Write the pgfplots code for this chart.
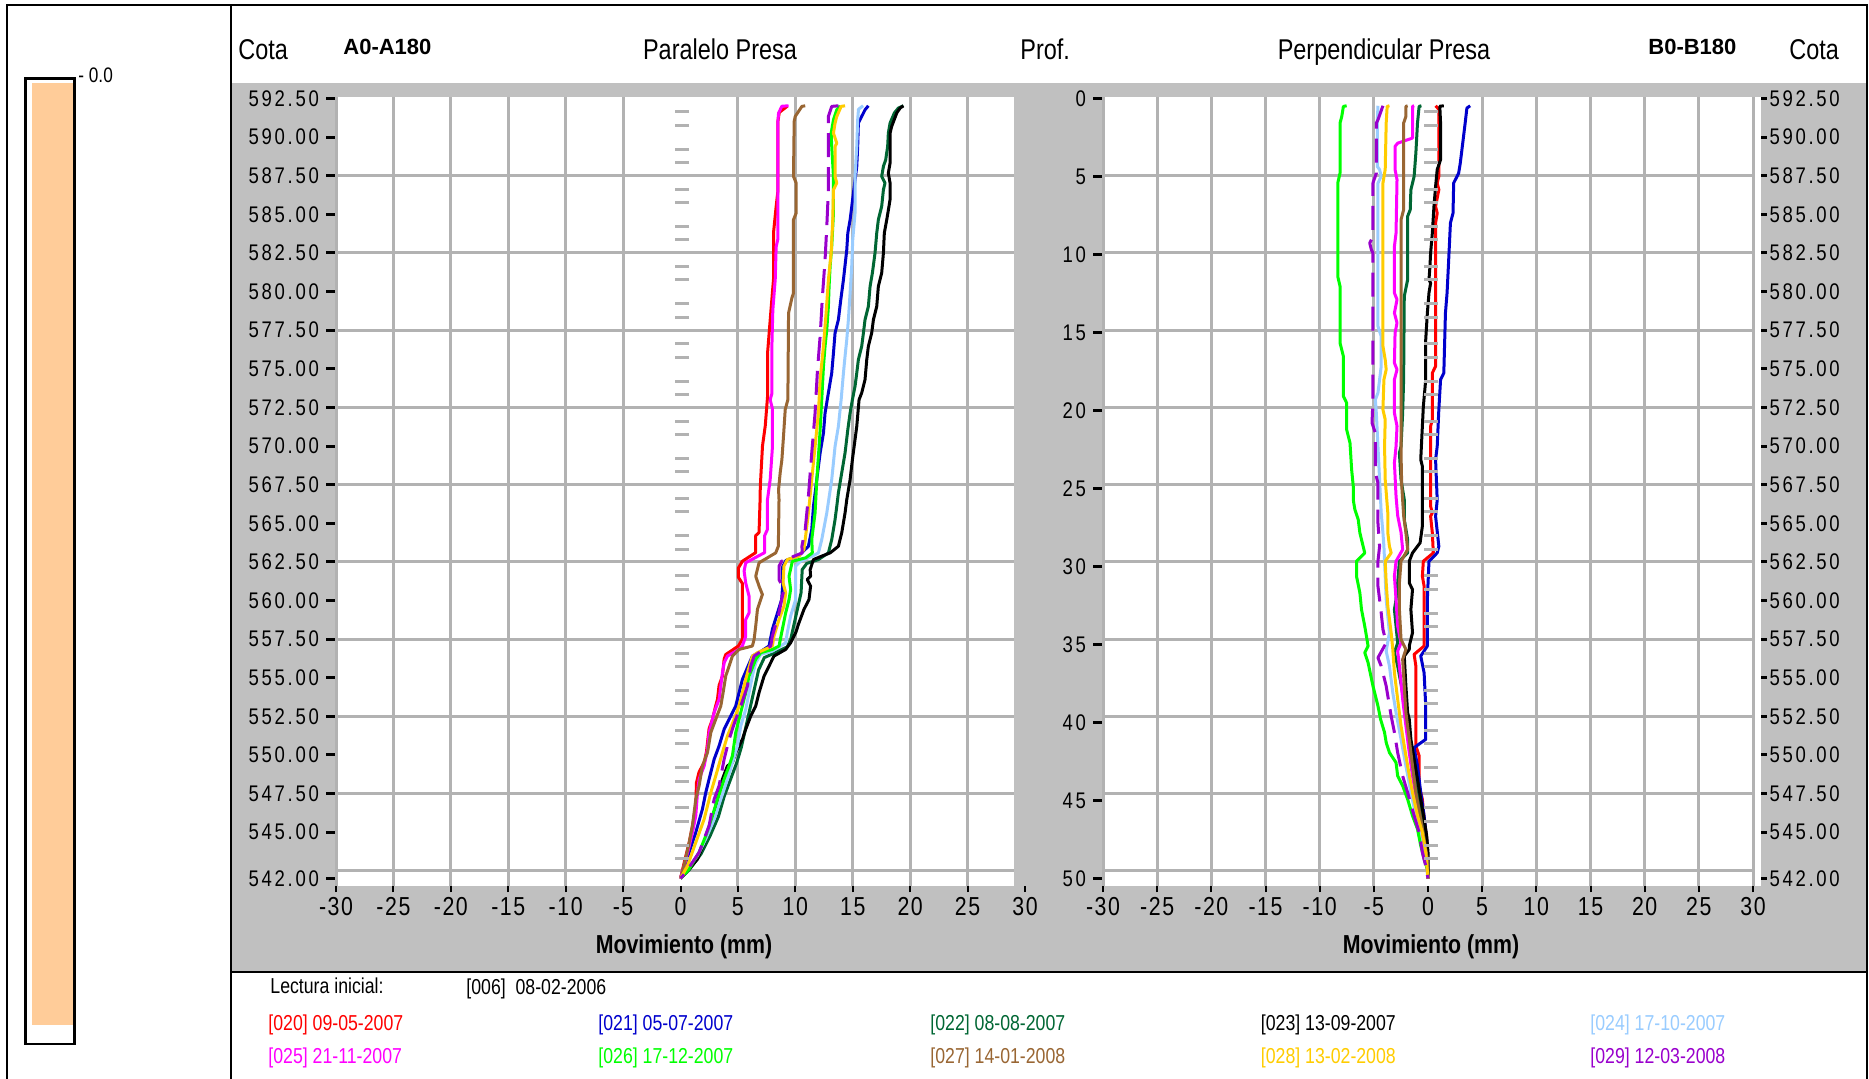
\documentclass[border=0pt]{standalone}
\usepackage{pgfplots}
\pgfplotsset{compat=1.18}
\usepackage{fontspec}
\setmainfont{Liberation Sans}[FakeStretch=0.82]
\newfontfamily\widef{Liberation Sans}
\newfontfamily\tickf{Liberation Sans}[FakeStretch=0.82,LetterSpace=12]
\newfontfamily\xtickf{Liberation Sans}[FakeStretch=0.82,LetterSpace=6]
\definecolor{c020}{RGB}{255,0,0}
\definecolor{c021}{RGB}{0,0,204}
\definecolor{c022}{RGB}{0,102,51}
\definecolor{c023}{RGB}{0,0,0}
\definecolor{c024}{RGB}{153,204,255}
\definecolor{c025}{RGB}{255,0,255}
\definecolor{c026}{RGB}{0,255,0}
\definecolor{c027}{RGB}{153,102,51}
\definecolor{c028}{RGB}{255,204,0}
\definecolor{c029}{RGB}{153,0,204}
\definecolor{gridgray}{RGB}{178,178,178}
\definecolor{bggray}{RGB}{192,192,192}
\definecolor{barfill}{RGB}{255,204,153}
\newcommand\ytfont{\tickf\fontsize{11.3}{12}\selectfont}
\newcommand\xtfont{\xtickf\fontsize{13}{14}\selectfont}
\newcommand\hfont{\fontsize{14.3}{16}\selectfont}
\newcommand\bfont{\widef\bfseries\fontsize{11}{13}\selectfont}
\newcommand\mfont{\bfseries\fontsize{13}{15}\selectfont}
\newcommand\lfont{\fontsize{10.8}{12}\selectfont}

\pgfplotsset{
  inclbase/.style={
    scale only axis, height=394.6pt,
    xmin=-30, xmax=30, ymin=541.5, ymax=592.6,
    axis line style={draw=none},
    tick align=outside,
    major tick length=5pt,
    xtick pos=left,
    xtick={-30,-25,-20,-15,-10,-5,0,5,10,15,20,25,30},
    xticklabels={-30,-25,-20,-15,-10,-5,0,5,10,15,20,25,30},
    xticklabel style={font=\xtfont, yshift=3pt},
    yticklabel style={font=\ytfont},
    xtick style={black, line width=1pt, /pgfplots/major tick length=3pt},
    ytick style={black, line width=1.5pt},
    grid style={gridgray, line width=1.5pt},
    extra y ticks={542.5,547.5,552.5,557.5,562.5,567.5,572.5,577.5,582.5,587.5},
    extra y tick labels={},
    extra y tick style={grid=major, major tick length=0pt},
    extra x tick labels={},
    extra x tick style={grid=major, major tick length=0pt},
    /pgf/number format/assume math mode=true,
  },
  curve/.style={line width=1.5pt, line join=round},
  zmarks/.style={only marks, mark=-, mark size=3.5pt, mark options={gridgray, line width=1.5pt}},
}

\begin{document}
\begin{tikzpicture}
\begin{scope}[x=0.5pt,y=-0.5pt,shift={(0,539.5pt)}]
\path[use as bounding box] (0,0) rectangle (1869,1079);
\fill[bggray] (231,83) rectangle (1867,971);
\fill[white] (336,97) rectangle (1014,886);
\fill[white] (1103,97) rectangle (1760.5,886);
\fill[barfill] (32,83) rectangle (73.3,1025);
\draw[line width=1.25pt] (25.5,78.7) rectangle (74.5,1044);
\draw[line width=1.25pt] (7,1079) -- (7,5) -- (1867,5) -- (1867,1079);
\draw[line width=1.25pt] (231,5) -- (231,1079);
\draw[line width=1.25pt] (231,972) -- (1867,972);
\end{scope}

% ---------------- LEFT: Paralelo Presa ----------------
\begin{axis}[inclbase, at={(168pt,96.4pt)}, anchor=south west, width=344.5pt,
  ytick pos=left,
  ytick={542,545,547.5,550,552.5,555,557.5,560,562.5,565,567.5,570,572.5,575,577.5,580,582.5,585,587.5,590,592.5},
  yticklabels={542.00,545.00,547.50,550.00,552.50,555.00,557.50,560.00,562.50,565.00,567.50,570.00,572.50,575.00,577.50,580.00,582.50,585.00,587.50,590.00,592.50},
  extra x ticks={-30,-25,-20,-15,-10,-5,5,10,15,20,25},
]
\addplot[zmarks] coordinates {(0.15,591.65)(0.15,590.78)(0.15,589.23)(0.15,588.37)(0.15,586.64)(0.15,585.78)(0.15,584.20)(0.15,583.34)(0.15,581.61)(0.15,580.75)(0.15,579.20)(0.15,578.33)(0.15,576.61)(0.15,575.74)(0.15,574.19)(0.15,573.32)(0.15,571.60)(0.15,570.73)(0.15,569.18)(0.15,568.32)(0.15,566.59)(0.15,565.73)(0.15,564.18)(0.15,563.33)(0.15,561.59)(0.15,560.74)(0.15,559.17)(0.15,558.30)(0.15,556.58)(0.15,555.71)(0.15,554.16)(0.15,553.30)(0.15,551.57)(0.15,550.71)(0.15,549.16)(0.15,548.29)(0.15,546.57)(0.15,545.70)(0.15,544.15)(0.15,543.28)};
% [020]
\addplot[c020, curve] coordinates {(9.3,592.0)(8.6,591.6)(8.48,591.0)(8.48,586.5)(8.3,585.3)(8.1,583.8)(8.1,580.8)(7.9,579.0)(7.58,576.0)(7.58,573.2)(7.38,571.3)(7.14,570.0)(6.95,567.4)(6.93,566.5)(6.84,564.4)(6.55,564.2)(6.55,563.1)(5.39,562.54)(5.04,562.1)(5.04,561.5)(5.39,561.1)(5.39,557.5)(5.04,557.05)(3.94,556.5)(3.8,556.2)(3.65,555.1)(3.36,554.5)(3.22,553.6)(3.07,553.2)(2.78,552.3)(2.49,551.7)(2.26,550.2)(2.06,549.5)(1.62,548.9)(1.39,548.2)(1.33,546.7)(1.04,545.4)(0.75,544.3)(0.41,543.3)(0,542)};
% [021]
\addplot[c021, curve] coordinates {(16.36,592.03)(16.07,591.77)(15.78,591.34)(15.49,590.91)(15.43,589.4)(15.35,588.1)(15.06,586.38)(14.77,584.65)(14.57,583.79)(14.48,582.71)(14.19,580.77)(13.96,579.48)(13.75,578.18)(13.46,577.32)(13.32,576.02)(13.17,574.73)(12.88,573.44)(12.59,572.14)(12.45,570.85)(12.16,569.55)(11.87,567.83)(11.58,566.1)(11.43,564.59)(11.14,563.51)(10.3,562.9)(9.2,562.6)(8.9,562.2)(8.9,561.0)(8.81,560.06)(8.0,558.13)(7.71,557.05)(6.84,556.62)(6.26,556.4)(5.39,554.89)(4.81,553.17)(4.38,552.52)(3.8,551.66)(3.36,550.58)(2.93,549.72)(2.49,548.43)(2.2,547.56)(1.91,546.49)(1.33,544.98)(0.75,543.69)(0,542)};
% [022]
\addplot[c022, curve] coordinates {(19.41,592.03)(18.97,591.88)(18.62,591.56)(18.25,590.91)(18.1,590.26)(18.04,589.4)(17.87,588.54)(17.67,588.1)(17.52,587.46)(17.81,587.03)(17.67,586.59)(17.52,585.52)(17.23,584.65)(17.09,583.79)(16.94,582.5)(16.71,581.2)(16.51,580.34)(16.36,579.04)(16.07,578.18)(15.93,577.32)(15.78,576.46)(15.49,575.59)(15.35,574.73)(15.2,573.87)(14.97,573.0)(14.77,572.14)(14.57,571.06)(14.33,569.55)(14.04,568.26)(13.75,566.97)(13.61,566.1)(13.46,565.24)(13.17,563.94)(12.88,563.08)(12.01,562.65)(11.0,562.4)(10.6,562.0)(10.5,560.5)(10.2,559.5)(9.9,558.5)(9.6,557.5)(9.3,557.0)(8.2,556.6)(7.3,556.3)(6.8,555.5)(6.5,554.5)(6.2,553.5)(5.9,552.5)(5.6,551.5)(5.3,550.5)(4.9,549.5)(4.4,548.5)(3.8,547.3)(3.3,546.0)(2.6,544.8)(1.8,543.6)(0.8,542.6)(0,542)};
% [023]
\addplot[c023, curve] coordinates {(19.41,592.03)(19.12,591.88)(18.83,591.56)(18.39,590.69)(18.25,590.26)(18.25,588.32)(18.1,587.67)(18.25,587.03)(18.25,585.95)(17.96,584.65)(17.75,583.79)(17.67,582.5)(17.52,581.2)(17.23,580.34)(17.09,579.04)(16.8,578.18)(16.65,577.32)(16.36,576.46)(16.22,575.59)(16.07,574.3)(15.78,573.44)(15.55,573.0)(15.35,571.28)(15.2,570.42)(14.97,569.12)(14.77,567.83)(14.48,566.53)(14.33,565.67)(14.04,564.38)(13.75,563.51)(13.03,563.08)(12.3,562.87)(11.58,562.65)(11.29,562.0)(11.33,561.57)(11.04,561.36)(11.33,560.93)(11.19,560.06)(10.75,559.42)(10.32,558.56)(10.03,557.91)(9.59,557.26)(9.16,556.83)(8.14,556.4)(7.71,555.75)(7.28,555.11)(6.84,554.03)(6.55,553.17)(6.12,552.52)(5.68,551.66)(5.39,551.01)(4.81,550.15)(4.52,549.5)(4.09,549.29)(3.65,548.43)(3.22,547.13)(2.78,545.84)(2.2,544.55)(1.48,543.25)(0.75,542.61)(0,542)};
% [024]
\addplot[c024, curve] coordinates {(15.9,592.03)(15.5,591.8)(15.43,591.12)(15.35,589.4)(15.2,587.46)(15.2,585.08)(15.0,583.36)(14.91,581.63)(14.77,579.91)(14.62,578.18)(14.48,576.89)(14.33,575.81)(14.19,574.73)(13.99,573.0)(13.75,571.28)(13.46,569.98)(13.17,567.83)(12.74,565.67)(12.3,563.94)(12.01,563.08)(11.48,562.87)(10.46,562.54)(10.03,562.22)(10.03,560.06)(9.59,558.99)(9.3,557.91)(9.16,557.26)(8.0,556.72)(6.99,556.51)(6.55,555.97)(6.26,555.11)(5.97,554.03)(5.68,552.95)(5.25,551.88)(4.96,550.58)(4.52,549.5)(4.09,548.43)(3.51,547.13)(2.93,545.84)(2.2,544.55)(1.48,543.47)(0.61,542.61)(0,542)};
% [025]
\addplot[c025, curve] coordinates {(9.41,592.03)(8.83,592.0)(8.54,591.56)(8.48,591.0)(8.48,583.4)(8.33,582.9)(8.25,580.8)(8.04,578.8)(7.96,576.5)(7.96,573.4)(7.81,573.0)(8.01,572.4)(8.01,569.98)(7.81,567.83)(7.57,566.5)(7.57,564.6)(7.33,564.2)(7.33,563.1)(5.68,562.44)(5.54,561.9)(5.68,561.14)(5.97,560.28)(5.97,559.2)(5.68,558.77)(5.68,557.69)(5.39,557.05)(5.10,556.83)(4.09,556.4)(3.80,555.97)(3.65,555.32)(3.51,554.46)(3.36,553.6)(2.93,552.74)(2.64,551.88)(2.49,551.45)(2.35,550.37)(2.06,549.29)(1.62,548.43)(1.48,547.56)(1.33,546.06)(1.04,544.98)(0.70,543.9)(0.32,542.82)(0,542)};
% [026]
\addplot[c026, curve] coordinates {(13.90,592.03)(13.61,591.77)(13.32,591.12)(13.12,590.26)(13.17,589.40)(13.32,587.46)(13.32,585.08)(13.17,582.93)(13.03,581.63)(12.94,580.34)(12.88,579.04)(12.74,577.53)(12.59,576.46)(12.45,575.16)(12.30,573.0)(12.16,571.06)(12.07,569.98)(11.87,567.83)(11.72,565.67)(11.43,563.94)(11.48,563.08)(10.90,562.76)(9.74,562.54)(9.45,561.57)(9.59,560.71)(9.45,560.06)(9.16,559.2)(8.81,557.91)(8.58,557.05)(8.00,556.83)(6.99,556.62)(6.55,556.19)(5.97,555.11)(5.68,554.03)(5.39,553.17)(5.10,552.31)(4.81,551.45)(4.52,549.94)(4.23,549.29)(3.80,548.43)(3.22,547.13)(2.78,546.06)(2.20,544.76)(1.62,543.69)(0.75,542.61)(0,542)};
% [027]
\addplot[c027, curve] coordinates {(10.86,592.03)(10.57,591.99)(9.99,591.34)(9.90,591.02)(9.84,587.46)(10.07,587.03)(10.07,585.08)(9.84,584.65)(9.84,579.91)(9.70,579.58)(9.41,578.61)(9.35,573.0)(9.12,572.36)(8.97,570.63)(8.83,569.12)(8.68,568.26)(8.54,567.18)(8.58,566.53)(8.52,563.51)(8.29,563.08)(6.84,562.44)(6.55,561.57)(6.84,560.93)(7.13,560.39)(6.70,559.42)(6.55,558.34)(6.41,557.48)(6.26,557.05)(5.10,556.83)(4.52,556.4)(4.23,555.75)(3.94,555.11)(3.71,554.03)(3.51,553.17)(3.07,552.31)(2.64,551.45)(2.35,550.15)(1.91,549.29)(1.62,548.0)(1.33,547.13)(1.04,545.41)(0.70,544.12)(0.17,542.39)(0,542)};
% [028]
\addplot[c028, curve] coordinates {(14.33,592.03)(13.99,591.99)(13.61,591.34)(13.46,590.91)(13.32,590.26)(13.61,589.61)(13.46,589.4)(13.46,587.46)(13.61,587.03)(13.32,586.59)(13.26,584.65)(13.12,582.5)(12.88,580.77)(12.68,578.61)(12.45,576.46)(12.16,574.3)(12.01,572.14)(11.72,569.98)(11.43,567.83)(11.14,565.67)(10.86,563.94)(10.75,563.3)(10.32,562.87)(9.30,562.65)(9.01,562.22)(8.93,561.14)(9.16,560.5)(9.01,559.63)(8.58,558.77)(8.14,557.69)(8.00,557.05)(6.70,556.62)(6.26,556.4)(5.83,555.32)(5.39,554.03)(5.10,553.17)(4.67,552.31)(4.09,551.23)(3.65,550.15)(3.07,548.64)(2.64,547.56)(2.06,545.84)(1.33,544.33)(0.61,542.82)(0,542)};
% [029]
\addplot[c029, curve, dash pattern=on 12pt off 5pt] coordinates {(13.75,592.03)(13.17,591.99)(12.88,591.34)(12.88,586.59)(12.74,584.22)(12.59,582.06)(12.36,579.7)(12.16,577.1)(11.93,574.95)(11.72,572.14)(11.43,569.55)(11.14,566.75)(10.86,564.59)(10.57,563.51)(10.61,563.08)(8.81,562.54)(8.58,562.22)(8.58,561.36)(9.01,560.71)(8.81,560.06)(8.58,559.2)(8.00,557.69)(7.86,557.05)(6.84,556.62)(6.41,556.4)(6.12,555.75)(5.83,554.46)(5.25,553.17)(4.81,552.31)(4.23,551.01)(3.80,549.72)(3.36,548.0)(2.93,547.13)(2.49,545.41)(1.62,543.69)(0.46,542.39)(0,542)};
\end{axis}

% ---------------- RIGHT: Perpendicular Presa ----------------
\begin{axis}[inclbase, at={(551.5pt,96.4pt)}, anchor=south west, width=325pt,
  ytick pos=left,
  ytick={542,547.05,552.1,557.15,562.2,567.25,572.3,577.35,582.4,587.45,592.5},
  yticklabels={50,45,40,35,30,25,20,15,10,5,0},
  extra x ticks={-30,-25,-20,-15,-10,-5,5,10,15,20,25,30},
]
\addplot[zmarks] coordinates {(0.25,591.65)(0.25,590.78)(0.25,589.23)(0.25,588.37)(0.25,586.64)(0.25,585.78)(0.25,584.20)(0.25,583.34)(0.25,581.61)(0.25,580.75)(0.25,579.20)(0.25,578.33)(0.25,576.61)(0.25,575.74)(0.25,574.19)(0.25,573.32)(0.25,571.60)(0.25,570.73)(0.25,569.18)(0.25,568.32)(0.25,566.59)(0.25,565.73)(0.25,564.18)(0.25,563.33)(0.25,561.59)(0.25,560.74)(0.25,559.17)(0.25,558.30)(0.25,556.58)(0.25,555.71)(0.25,554.16)(0.25,553.30)(0.25,551.57)(0.25,550.71)(0.25,549.16)(0.25,548.29)(0.25,546.57)(0.25,545.70)(0.25,544.15)(0.25,543.28)};
% [020]
\addplot[c020, curve] coordinates {(0.7,592.03)(1.0,591.8)(1.0,590.48)(1.0,587.46)(0.85,587.03)(1.0,586.59)(0.7,585.52)(0.85,585.08)(0.7,584.44)(0.7,575.16)(0.4,574.73)(0.4,571.71)(0.24,571.28)(0.24,566.1)(0.4,565.67)(0.24,565.45)(0.4,564.38)(0.49,563.08)(-0.43,562.54)(-0.52,561.57)(-0.36,560.93)(-0.36,557.05)(-1.28,556.51)(-1.12,555.75)(-1.12,550.58)(-0.82,549.94)(-0.82,548.0)(-0.52,547.13)(-0.36,545.84)(-0.12,544.55)(0,542)};
% [021]
\addplot[c021, curve] coordinates {(3.89,592.03)(3.59,591.88)(3.43,590.91)(3.28,590.04)(2.98,588.32)(2.83,587.67)(2.37,587.03)(2.31,585.08)(2.07,584.44)(1.91,582.06)(1.76,579.91)(1.61,578.61)(1.46,574.73)(1.16,574.3)(1.0,572.36)(0.85,569.98)(0.7,569.12)(0.85,566.5)(0.7,565.45)(1.0,563.51)(0.85,563.08)(0.09,562.54)(-0.06,560.06)(-0.06,557.05)(-0.67,556.4)(-0.36,555.32)(-0.21,553.17)(-0.21,551.01)(-1.28,550.47)(-0.97,549.29)(-0.67,547.56)(-0.36,546.06)(-0.06,544.12)(0,542)};
% [022]
\addplot[c022, curve] coordinates {(-0.61,592.03)(-0.82,591.99)(-0.97,590.91)(-1.12,588.97)(-1.28,587.46)(-1.58,586.59)(-1.64,585.3)(-1.88,584.87)(-1.88,580.77)(-2.19,579.69)(-2.25,574.3)(-2.34,572.14)(-2.49,569.98)(-2.64,569.55)(-2.49,567.83)(-2.19,566.53)(-2.19,565.24)(-1.88,563.94)(-1.88,563.08)(-2.64,562.54)(-2.8,561.14)(-2.95,560.06)(-3.1,559.42)(-2.95,558.34)(-2.8,557.26)(-3.1,556.62)(-2.8,555.75)(-2.34,554.03)(-2.04,552.31)(-1.73,550.58)(-1.28,548.86)(-0.97,547.56)(-0.67,546.27)(-0.36,544.98)(-0.12,543.69)(0,542)};
% [023]
\addplot[c023, curve] coordinates {(1.46,592.03)(1.09,592.0)(1.16,590.91)(1.16,588.54)(0.85,587.9)(0.7,586.81)(0.55,585.52)(0.4,583.79)(0.24,582.5)(0.18,581.63)(0.09,580.77)(0.24,580.55)(0.09,579.91)(-0.06,578.61)(-0.21,576.89)(-0.21,574.3)(-0.43,572.57)(-0.52,571.28)(-0.67,569.12)(-0.52,568.69)(-0.52,564.81)(-0.73,563.73)(-1.43,563.08)(-1.73,562.54)(-1.73,561.14)(-1.43,560.71)(-1.58,559.42)(-1.43,557.91)(-1.73,557.05)(-1.73,556.83)(-2.19,556.4)(-2.04,554.46)(-1.88,552.74)(-1.73,552.31)(-1.58,551.01)(-1.28,549.72)(-0.97,548.43)(-0.67,547.13)(-0.36,545.84)(-0.12,544.76)(0,543.69)(0,542)};
% [024]
\addplot[c024, curve] coordinates {(-4.62,592.03)(-4.68,591.0)(-4.68,588.1)(-4.47,587.9)(-4.32,587.46)(-4.62,587.03)(-4.62,577.75)(-4.32,577.1)(-4.32,575.16)(-4.62,573.44)(-4.86,573.0)(-4.77,572.14)(-4.62,569.98)(-4.47,567.83)(-4.32,565.67)(-4.16,564.38)(-4.07,563.51)(-4.01,562.54)(-3.86,560.06)(-3.56,557.91)(-3.86,556.72)(-3.56,555.75)(-3.25,554.03)(-2.95,552.74)(-2.49,551.01)(-2.04,549.29)(-1.58,547.56)(-1.12,546.06)(-0.67,544.55)(-0.21,543.25)(0,542)};
% [025]
\addplot[c025, curve] coordinates {(-1.28,592.03)(-1.43,591.99)(-1.43,589.94)(-2.8,589.61)(-3.04,589.4)(-3.04,587.9)(-2.86,587.24)(-2.95,583.79)(-3.1,582.93)(-3.1,579.91)(-2.86,579.48)(-3.1,578.61)(-2.86,577.97)(-3.04,577.32)(-3.1,575.38)(-2.86,574.95)(-3.1,574.3)(-3.1,572.14)(-2.86,571.28)(-2.95,569.98)(-3.1,568.91)(-2.95,566.75)(-2.8,565.5)(-2.49,564.4)(-2.34,563.3)(-2.95,562.54)(-3.1,561.57)(-2.95,560.06)(-2.8,558.34)(-2.49,557.26)(-2.8,556.72)(-2.64,555.75)(-2.34,553.6)(-2.04,551.88)(-1.73,550.15)(-1.43,548.64)(-0.97,546.7)(-0.52,544.98)(-0.21,543.69)(0,542)};
% [026]
\addplot[c026, curve] coordinates {(-7.51,592.03)(-7.81,591.99)(-7.96,591.34)(-8.12,590.91)(-8.12,587.67)(-8.33,587.03)(-8.33,580.98)(-8.12,580.34)(-8.12,576.67)(-7.81,575.81)(-7.81,573.22)(-7.51,572.79)(-7.51,571.06)(-7.20,570.2)(-7.05,568.48)(-6.90,567.4)(-6.90,566.53)(-6.75,565.88)(-6.44,565.24)(-6.29,564.38)(-5.84,563.08)(-6.60,562.54)(-6.60,561.57)(-6.29,560.50)(-6.14,559.42)(-5.84,558.34)(-5.53,557.05)(-5.84,556.62)(-5.53,555.97)(-5.08,554.46)(-4.62,553.17)(-4.38,552.31)(-4.01,551.45)(-3.86,550.80)(-3.56,550.15)(-2.95,549.50)(-2.80,548.64)(-2.34,548.0)(-1.88,547.13)(-1.43,546.06)(-0.97,545.20)(-0.67,544.12)(-0.36,543.25)(-0.06,542.61)(0,542)};
% [027]
\addplot[c027, curve] coordinates {(-1.88,592.03)(-2.04,591.99)(-2.04,591.34)(-2.25,590.91)(-2.25,585.3)(-2.49,584.65)(-2.49,569.55)(-2.43,567.5)(-2.25,565.5)(-2.04,564.38)(-1.88,563.3)(-2.49,562.54)(-2.64,561.14)(-2.64,559.42)(-2.49,557.48)(-2.04,556.83)(-2.34,556.19)(-2.19,554.46)(-2.04,552.74)(-1.73,551.01)(-1.43,549.29)(-1.12,547.56)(-0.67,545.84)(-0.36,544.55)(-0.06,543.25)(0,542)};
% [028]
\addplot[c028, curve] coordinates {(-3.56,592.03)(-3.77,591.99)(-3.86,590.91)(-3.95,587.9)(-4.16,587.03)(-4.16,576.46)(-3.95,575.59)(-3.86,574.95)(-4.07,574.3)(-4.16,572.36)(-3.95,571.71)(-4.01,569.98)(-3.95,567.83)(-3.71,565.67)(-3.71,564.38)(-3.56,563.51)(-3.4,563.08)(-3.95,562.54)(-3.86,561.14)(-3.71,559.63)(-3.4,557.91)(-3.25,556.83)(-3.1,555.32)(-2.8,553.6)(-2.49,551.88)(-2.19,550.58)(-1.88,549.29)(-1.43,547.56)(-0.97,546.06)(-0.52,544.98)(-0.21,543.69)(0,542)};
% [029]
\addplot[c029, curve, dash pattern=on 12pt off 5pt] coordinates {(-4.16,592.03)(-4.62,591.12)(-4.77,590.91)(-4.77,587.67)(-5.08,587.03)(-5.08,583.57)(-5.38,583.14)(-5.23,582.71)(-5.08,582.5)(-5.08,573.0)(-5.17,571.49)(-4.86,570.85)(-4.86,568.26)(-4.62,567.61)(-4.62,565.02)(-4.47,563.51)(-4.62,562.54)(-4.62,560.93)(-4.47,560.06)(-4.32,559.2)(-4.16,558.13)(-3.86,557.26)(-4.62,556.29)(-4.32,555.75)(-3.86,554.46)(-3.4,552.52)(-3.1,551.45)(-2.8,550.15)(-2.34,548.64)(-1.88,547.56)(-1.28,546.06)(-0.82,544.98)(-0.52,543.69)(-0.21,542.82)(0,542)};
\end{axis}

% right-hand Cota scale
\begin{axis}[scale only axis, at={(551.5pt,96.4pt)}, anchor=south west, width=328.75pt, height=394.6pt,
  xmin=-30, xmax=30, ymin=541.5, ymax=592.6,
  hide x axis, axis line style={draw=none},
  tick align=outside, major tick length=3pt,
  ytick pos=right,
  ytick={542,545,547.5,550,552.5,555,557.5,560,562.5,565,567.5,570,572.5,575,577.5,580,582.5,585,587.5,590,592.5},
  yticklabels={542.00,545.00,547.50,550.00,552.50,555.00,557.50,560.00,562.50,565.00,567.50,570.00,572.50,575.00,577.50,580.00,582.50,585.00,587.50,590.00,592.50},
  yticklabel style={font=\ytfont, xshift=-2pt},
  ytick style={black, line width=1.5pt},
]
\addplot[draw=none] coordinates {(0,560)};
\end{axis}

\begin{scope}[x=0.5pt,y=-0.5pt,shift={(0,539.5pt)}]
\fill[bggray] (1014,90) rectangle (1026,886);
\node[anchor=base west, font=\hfont, inner sep=0] at (238,59.5) {Cota};
\node[anchor=base west, font=\bfont, inner sep=0] at (343,54.5) {A0-A180};
\node[anchor=base, font=\hfont, inner sep=0] at (720,59.5) {Paralelo Presa};
\node[anchor=base west, font=\hfont, inner sep=0] at (1020,59.5) {Prof.};
\node[anchor=base, font=\hfont, inner sep=0] at (1384,59.5) {Perpendicular Presa};
\node[anchor=base west, font=\bfont, inner sep=0] at (1648,54.5) {B0-B180};
\node[anchor=base west, font=\hfont, inner sep=0] at (1789,59.5) {Cota};
\node[anchor=base, font=\mfont, inner sep=0] at (684,953.5) {Movimiento (mm)};
\node[anchor=base, font=\mfont, inner sep=0] at (1431,953.5) {Movimiento (mm)};
\node[anchor=base west, font=\fontsize{10.5}{11}\selectfont, inner sep=0] at (78,83) {- 0.0};
\node[anchor=base west, font=\lfont, inner sep=0] at (270,994) {Lectura inicial:};
\node[anchor=base west, font=\lfont, inner sep=0] at (466,995) {[006]\ \ 08-02-2006};
\node[anchor=base west, font=\lfont, inner sep=0, text=c020] at (268,1030.7) {[020] 09-05-2007};
\node[anchor=base west, font=\lfont, inner sep=0, text=c021] at (598,1030.7) {[021] 05-07-2007};
\node[anchor=base west, font=\lfont, inner sep=0, text=c022] at (930,1030.7) {[022] 08-08-2007};
\node[anchor=base west, font=\lfont, inner sep=0, text=c023] at (1260.5,1030.7) {[023] 13-09-2007};
\node[anchor=base west, font=\lfont, inner sep=0, text=c024] at (1590,1030.7) {[024] 17-10-2007};
\node[anchor=base west, font=\lfont, inner sep=0, text=c025] at (268,1064) {[025] 21-11-2007};
\node[anchor=base west, font=\lfont, inner sep=0, text=c026] at (598,1064) {[026] 17-12-2007};
\node[anchor=base west, font=\lfont, inner sep=0, text=c027] at (930,1064) {[027] 14-01-2008};
\node[anchor=base west, font=\lfont, inner sep=0, text=c028] at (1260.5,1064) {[028] 13-02-2008};
\node[anchor=base west, font=\lfont, inner sep=0, text=c029] at (1590,1064) {[029] 12-03-2008};
\end{scope}
\end{tikzpicture}
\end{document}
